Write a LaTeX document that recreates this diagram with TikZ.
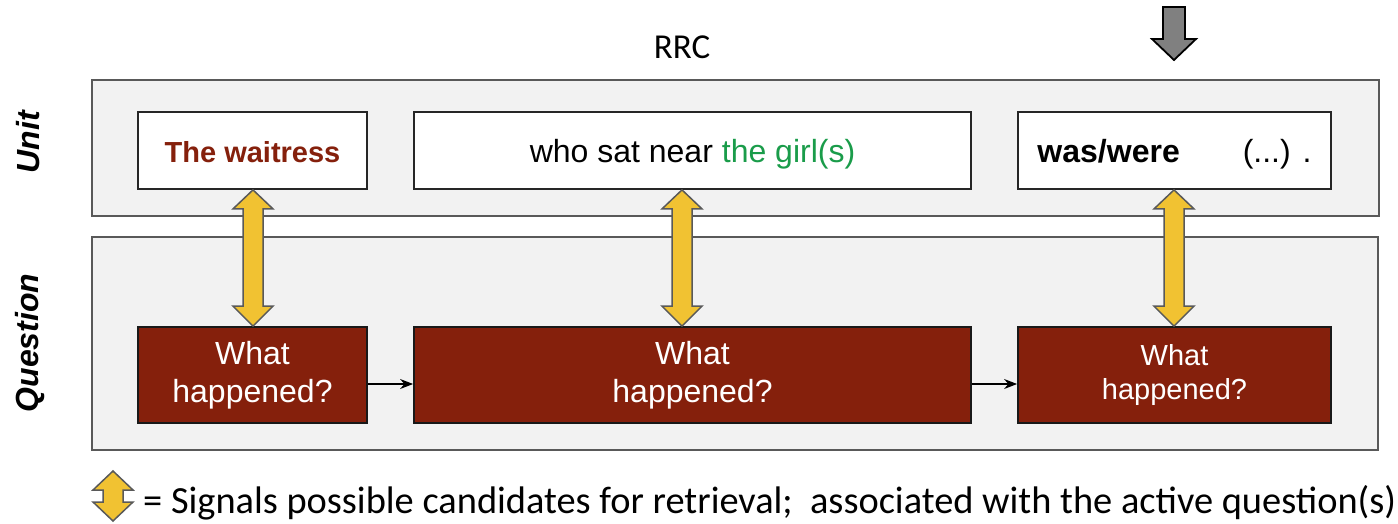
\documentclass[tikz,border=0pt]{standalone}
\usepackage{fontspec}
\setmainfont{Liberation Sans}
\newfontfamily\legendfont{Carlito}
\usetikzlibrary{calc,arrows.meta}
\definecolor{panelfill}{HTML}{F2F2F2}
\definecolor{panelline}{HTML}{595959}
\definecolor{qred}{HTML}{85200C}
\definecolor{ggreen}{HTML}{1A9C4A}
\definecolor{ayellow}{HTML}{F1C232}
\definecolor{agray}{HTML}{808080}
\tikzset{
  panel/.style={draw=panelline, fill=panelfill, line width=1.8pt, inner sep=0pt},
  unitbox/.style={draw=black!85, fill=white, line width=1.8pt, inner sep=0pt,
    text height=23pt, text depth=0pt, font=\fontsize{32}{38}\selectfont},
  qbox/.style={draw=black!90, fill=qred, line width=1.8pt, inner sep=0pt, align=center,
    text=white, font=\fontsize{32}{38}\selectfont},
  yarrow/.style={draw=panelline, fill=ayellow, line width=1.5pt, line join=miter},
  garrow/.style={draw=black, fill=agray, line width=1.8pt, line join=miter},
  flow/.style={draw=black, line width=1.3pt, -{Stealth[length=13pt,width=10pt]}},
  sidelabel/.style={rotate=90, font=\fontsize{32}{38}\selectfont\bfseries\itshape, inner sep=0pt},
}
\newcommand\dblarrow[3]{%
  \coordinate (ta) at (#3 |- #1.south);
  \coordinate (tb) at (#3 |- #2.north);
  \draw[yarrow] (ta) -- ++(20,19) -- ++(-10,0) -- ($(tb)+(10,-20)$) -- ++(10,0) -- (tb)
    -- ++(-20,-20) -- ++(10,0) -- ($(ta)+(-10,19)$) -- ++(-10,0) -- cycle;}
\begin{document}
\begin{tikzpicture}[x=1pt,y=-1pt]
\useasboundingbox (0,0) rectangle (1398,523);
% panels
\node[panel, minimum width=1287pt, minimum height=136pt] (unitpanel) at (735.5,148) {};
\node[panel, minimum width=1286pt, minimum height=213pt] (qpanel) at (735,343.5) {};
% side labels
\node[sidelabel] (unitlbl) at (28,142) {Unit};
\node[sidelabel] (qlbl) at (30,343) {Question};
% title
\node[anchor=base, inner sep=0pt, font=\legendfont\fontsize{35}{40}\selectfont] (rrc) at (682,58) {RRC};
% unit boxes
\node[unitbox, minimum width=229pt, minimum height=77pt] (u1) at (252.5,150.5)
  {\fontsize{29}{34}\selectfont\bfseries\color{qred}The waitress};
\node[unitbox, minimum width=557pt, minimum height=77pt] (u2) at (692.5,150.5)
  {who sat near \textcolor{ggreen}{the girl(s)}};
\node[unitbox, minimum width=313pt, minimum height=77pt] (u3) at (1174.5,150.5)
  {\textbf{was/were}\hspace{63pt}(...) .};
% question boxes
\node[qbox, minimum width=229pt, minimum height=96pt] (q1) at (252.5,375) {What\\happened?};
\node[qbox, minimum width=557pt, minimum height=96pt] (q2) at (692.5,375) {What\\happened?};
\node[qbox, minimum width=313pt, minimum height=96pt, font=\fontsize{29}{34}\selectfont] (q3) at (1174.5,375) {What\\happened?};
% flow arrows
\draw[flow] (q1.east |- 0,384) -- (q2.west |- 0,384);
\draw[flow] (q2.east |- 0,384) -- (q3.west |- 0,384);
% yellow double arrows
\coordinate (x1) at (253,0);
\coordinate (x2) at (682,0);
\coordinate (x3) at (1174,0);
\dblarrow{u1}{q1}{x1}
\dblarrow{u2}{q2}{x2}
\dblarrow{u3}{q3}{x3}
% grey down arrow
\draw[garrow] (1163,7) -- (1185,7) -- (1185,39) -- (1196,39) -- (1174,60) -- (1152,39) -- (1163,39) -- cycle;
% legend
\draw[yarrow] (113,471) -- (133,490) -- (123,490) -- (123,502) -- (133,502) -- (113,521)
  -- (93,502) -- (103,502) -- (103,490) -- (93,490) -- cycle;
\node[anchor=base west, inner sep=0pt, font=\legendfont\fontsize{38.4}{44}\selectfont] (legend) at (143,513)
  {= Signals possible candidates for retrieval;\ \ associated with the active question(s)};
\end{tikzpicture}
\end{document}
